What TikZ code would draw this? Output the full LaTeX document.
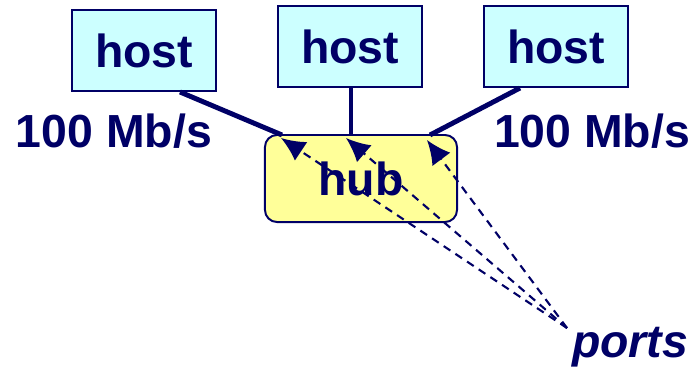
\documentclass[tikz,border=0pt]{standalone}
\usepackage{fontspec}
\setmainfont{Liberation Sans}
\usepackage{tikz}
\usetikzlibrary{calc,positioning,arrows.meta}
\definecolor{navy}{RGB}{0,0,102}
\definecolor{hostfill}{RGB}{204,255,255}
\definecolor{hubfill}{RGB}{255,255,153}

\begin{document}
\begin{tikzpicture}[x=0.025cm,y=-0.025cm,font=\fontsize{33}{36}\selectfont\bfseries,
                    text=navy]
        % Setup the styles for the boxes and links
        \tikzset{host style/.style={draw=navy, line width=1.4pt, fill=hostfill,
                                    minimum width=3.6cm, minimum height=2.025cm,
                                    inner sep=0pt},
                 hub style/.style={draw=navy, line width=1.4pt, fill=hubfill,
                                   rounded corners=0.3cm,
                                   minimum width=4.8cm, minimum height=2.175cm,
                                   inner sep=0pt},
                 link/.style={draw=navy, line width=3.5pt},
                 port arrow/.style={draw=navy, line width=1.5pt,
                                    dash pattern=on 0.2cm off 0.15cm,
                                    -{Latex[length=0.6cm, width=0.56cm, fill=navy]}}}
        \useasboundingbox (0,0) rectangle (694,368);

        % Draw the hosts and the hub
        \node[host style] at (144, 50.5) (host1) {host};
        \node[host style] at (350, 46.5) (host2) {host};
        \node[host style] at (556, 46.5) (host3) {host};
        \node[hub style]  at (361, 178.5) (hub)  {hub};

        % Labels
        \node at (114, 131) (rate1) {100 Mb/s};
        \node at (592, 131) (rate2) {100 Mb/s};
        \node[anchor=base, font=\fontsize{33}{36}\selectfont\bfseries\itshape]
            at (630, 357) (ports) {ports};

        % Ports on the hub
        \coordinate (p1) at (282, 135);
        \coordinate (p2) at (351, 135);
        \coordinate (p3) at (430, 135);
        \coordinate (a1) at (281, 138);
        \coordinate (a2) at (346, 138);
        \coordinate (a3) at (427, 140);
        \coordinate (src) at (567, 328);

        % Connect the hosts to the hub
        \draw[link] ($(host1.south)+(36,0)$) -- (p1);
        \draw[link] (host2.south -| p2) -- (p2);
        \draw[link] ($(host3.south)+(-36,0)$) -- (p3);

        % Point at the ports
        \draw[port arrow] (src) -- (a1);
        \draw[port arrow] (src) -- (a2);
        \draw[port arrow] (src) -- (a3);
    \end{tikzpicture}
\end{document}
